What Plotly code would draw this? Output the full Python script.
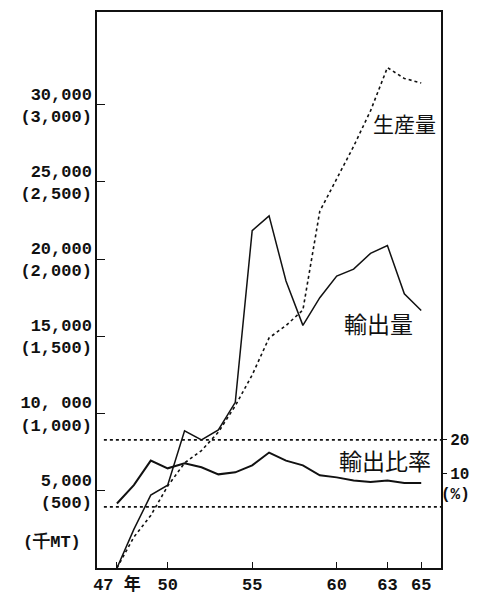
import plotly.graph_objects as go

# ---- data ----
years = list(range(47, 66))
# 生産量 (千MT)
production = [0, 2000, 3400, 5300, 6800, 7600, 8800, 10500, 12500, 14900,
              15700, 16700, 23100, 25200, 27300, 29600, 32400, 31700, 31400]
# 輸出量 (千MT, parenthesised scale)
exports = [0, 250, 472, 536, 888, 830, 894, 1073, 2184, 2280,
           1858, 1571, 1750, 1890, 1935, 2037, 2088, 1775, 1667]
# 輸出比率 (%)
export_ratio = [1, 6.5, 13.8, 11.5, 13, 11.8, 9.7, 10.3, 12.4, 16.2,
                13.8, 12.4, 9.4, 8.8, 7.9, 7.4, 7.9, 7.1, 7.1]

left_tickvals = [5000, 10000, 15000, 20000, 25000, 30000]
left_ticktext = ["5,000<br>(500)", "10, 000<br>(1,000)", "15,000<br>(1,500)",
                 "20,000<br>(2,000)", "25,000<br>(2,500)", "30,000<br>(3,000)"]
x_tickvals = [47, 50, 55, 60, 63, 65]
x_ticktext = ["47 年", "50", "55", "60", "63", "65"]
ratio_tickvals = [10, 20]
ratio_ticktext = ["10", "20"]
ratio_ref_lines = [0, 20]

INK = "#111111"
MONO = "Liberation Mono, DejaVu Sans Mono, monospace"
CJK = "Noto Sans CJK JP, Noto Sans CJK SC, sans-serif"

fig = go.Figure()
fig.add_trace(go.Scatter(x=years, y=production, mode="lines", name="生産量",
                         line=dict(color=INK, width=1.6, dash="dot"), yaxis="y"))
fig.add_trace(go.Scatter(x=years, y=exports, mode="lines", name="輸出量",
                         line=dict(color=INK, width=1.5), yaxis="y2"))
fig.add_trace(go.Scatter(x=years, y=export_ratio, mode="lines", name="輸出比率",
                         line=dict(color=INK, width=2.0), yaxis="y3"))

for v in ratio_ref_lines:
    fig.add_shape(type="line", xref="paper", yref="y3", x0=0.02, x1=1.0, y0=v, y1=v,
                  line=dict(color=INK, width=1.6, dash="dot"))

annots = [
    dict(text="生産量", x=0.895, y=0.800, size=21),
    dict(text="輸出量", x=0.817, y=0.440, size=23),
    dict(text="輸出比率", x=0.837, y=0.195, size=23),
]
for a in annots:
    fig.add_annotation(text=a["text"], x=a["x"], y=a["y"], xref="paper", yref="paper",
                       showarrow=False, font=dict(family=CJK, size=a["size"], color=INK),
                       xanchor="center", yanchor="middle")
fig.add_annotation(text="(千MT)", x=-0.13, y=0.046, xref="paper", yref="paper",
                   showarrow=False, font=dict(family=MONO, size=17, color=INK, weight="bold"),
                   xanchor="center", yanchor="middle")
fig.add_annotation(text="(%)", x=1.09, y=0.131, xref="paper", yref="paper",
                   showarrow=False, font=dict(family=MONO, size=16, color=INK, weight="bold"),
                   xanchor="right", yanchor="middle")

# page has an 8px body margin: figure sized/positioned so the plot sits where the reference's does
fig.update_layout(
    width=464, height=589,
    margin=dict(l=89, r=31, t=2, b=23),
    paper_bgcolor="white", plot_bgcolor="white",
    showlegend=False,
    xaxis=dict(range=[45.82, 66.17], tickvals=x_tickvals, ticktext=x_ticktext,
               ticks="inside", ticklen=6, tickwidth=1.3, tickcolor=INK,
               showline=True, linecolor=INK, linewidth=1.5, mirror=True,
               showgrid=False, zeroline=False,
               tickfont=dict(family=MONO + ", " + CJK, size=17, color=INK, weight="bold")),
    yaxis=dict(range=[0, 36000], tickvals=left_tickvals, ticktext=left_ticktext,
               ticks="inside", ticklen=8, tickwidth=1.3, tickcolor=INK,
               showline=True, linecolor=INK, linewidth=1.5, mirror=True,
               showgrid=False, zeroline=False,
               tickfont=dict(family=MONO, size=17, color=INK, weight="bold")),
    yaxis2=dict(range=[0, 3600], overlaying="y", visible=False),
    yaxis3=dict(range=[-18.24, 147.65], overlaying="y", side="right",
                tickvals=ratio_tickvals, ticktext=ratio_ticktext,
                ticks="outside", ticklen=5, tickwidth=1.3, tickcolor=INK,
                showline=False, showgrid=False, zeroline=False,
                tickfont=dict(family=MONO, size=16, color=INK, weight="bold")),
)

fig.write_html("out.html")
